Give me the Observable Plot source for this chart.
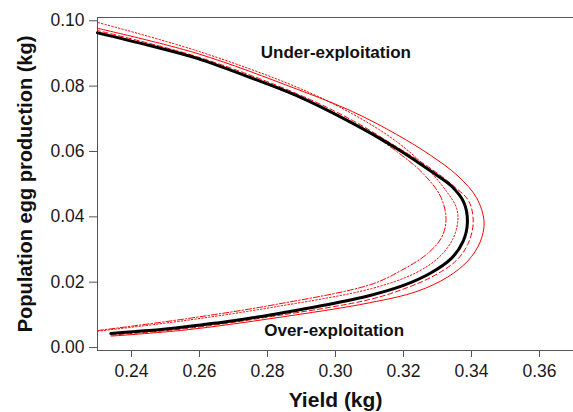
<!DOCTYPE html>
<html>
<head>
<meta charset="utf-8">
<script src="https://cdn.jsdelivr.net/npm/d3@7"></script>
<script src="https://cdn.jsdelivr.net/npm/@observablehq/plot@0.6"></script>
<style>
  html, body { margin: 0; padding: 0; background: #fff; }
  #chart { width: 573px; height: 412px; }
</style>
</head>
<body>
<div id="chart"></div>
<script>
// Curves as [yield (kg), population egg production (kg)]
const baseCurve = [
  [0.2339,0.0043],[0.245,0.0052],[0.256,0.0064],[0.270,0.0082],[0.2825,0.0103],
  [0.297,0.0130],[0.3104,0.0160],[0.320,0.0190],[0.328,0.0228],[0.334,0.0272],
  [0.3375,0.0324],[0.3388,0.0384],[0.3377,0.0445],[0.334,0.0495],[0.328,0.0540],
  [0.318,0.0609],[0.304,0.0692],[0.2886,0.0771],[0.274,0.0830],[0.2593,0.0885],
  [0.245,0.0925],[0.230,0.0963]
];
const solidCurve = [
  [0.234,0.0035],[0.256,0.0054],[0.2825,0.0091],[0.310,0.0137],[0.324,0.0172],
  [0.333,0.0216],[0.339,0.0266],[0.3425,0.0322],[0.3437,0.0384],[0.3415,0.0458],
  [0.336,0.0525],[0.328,0.0588],[0.318,0.0652],[0.305,0.0722],[0.2886,0.0791],
  [0.2593,0.0900],[0.230,0.0977]
];
const dashedCurve = [
  [0.234,0.0038],[0.256,0.0058],[0.2825,0.0097],[0.310,0.0147],[0.321,0.0183],
  [0.329,0.0220],[0.3355,0.0266],[0.339,0.0318],[0.3405,0.0384],[0.3392,0.0448],
  [0.335,0.0492],[0.328,0.0548],[0.318,0.0614],[0.305,0.0695],[0.2886,0.0777],
  [0.2593,0.0890],[0.230,0.0970]
];
const dottedCurve = [
  [0.230,0.0050],[0.256,0.0083],[0.2825,0.0125],[0.3104,0.0180],[0.3235,0.0228],
  [0.3305,0.0277],[0.3345,0.0332],[0.336,0.0390],[0.3355,0.0430],[0.3325,0.0480],
  [0.327,0.0548],[0.318,0.0630],[0.305,0.0715],[0.2886,0.0797],[0.2593,0.0908],[0.230,0.0995]
];
const dashDotCurve = [
  [0.230,0.0052],[0.256,0.0088],[0.2825,0.0132],[0.3104,0.0193],[0.3195,0.0237],
  [0.327,0.0287],[0.3312,0.0337],[0.3325,0.0392],[0.331,0.0460],[0.326,0.0530],
  [0.318,0.0600],[0.305,0.0688],[0.2886,0.0768],[0.2593,0.0884],[0.230,0.0966]
];

const xTicks = [0.24, 0.26, 0.28, 0.30, 0.32, 0.34, 0.36];
const yTicks = [0.00, 0.02, 0.04, 0.06, 0.08, 0.10];

const noteText = ["Under-exploitation", "Over-exploitation"];
const noteX = [0.3001, 0.2996];
const noteY = [0.0903, 0.0053];

const xLabel = "Yield (kg)";
const yLabel = "Population egg production (kg)";

const lineOpts = {x: d => d[0], y: d => d[1], curve: "catmull-rom"};

const chart = Plot.plot({
  width: 573,
  height: 412,
  marginLeft: 97,
  marginRight: 0,
  marginTop: 17,
  marginBottom: 62,
  style: {fontFamily: "'Liberation Sans', Arial, sans-serif", fontSize: "17.5px", color: "#1a1a1a", background: "#fff"},
  x: {domain: [0.23, 0.37]},
  y: {domain: [-0.0009, 0.101]},
  marks: [
    Plot.frame({stroke: "#555", strokeWidth: 1}),
    Plot.axisX({ticks: xTicks, tickFormat: d3.format(".2f"), tickSize: 7, tickPadding: 7,
      label: xLabel, labelAnchor: "center", labelArrow: "none", labelOffset: 56, stroke: "#555"}),
    Plot.axisY({ticks: yTicks, tickFormat: d3.format(".2f"), tickSize: 8, tickPadding: 5,
      label: yLabel, labelAnchor: "center", labelArrow: "none", labelOffset: 80, stroke: "#555"}),
    Plot.line(solidCurve, {...lineOpts, stroke: "#ff0000", strokeWidth: 1}),
    Plot.line(dashedCurve, {...lineOpts, stroke: "#ff0000", strokeWidth: 1, strokeDasharray: "5,3"}),
    Plot.line(dottedCurve, {...lineOpts, stroke: "#ff0000", strokeWidth: 1, strokeDasharray: "1.5,2"}),
    Plot.line(dashDotCurve, {...lineOpts, stroke: "#ff0000", strokeWidth: 1, strokeDasharray: "6,2,1.5,2"}),
    Plot.line(baseCurve, {...lineOpts, stroke: "#000", strokeWidth: 3}),
    Plot.text(noteText, {x: (d, i) => noteX[i], y: (d, i) => noteY[i], text: d => d,
      fontWeight: "bold", fontSize: 17, fill: "#111"})
  ]
});

document.getElementById("chart").appendChild(chart);
const svg = d3.select(chart);
svg.selectAll('[aria-label="x-axis label"] text')
  .style("font-weight", "bold").style("font-size", "21px").style("fill", "#111");
svg.selectAll('[aria-label="y-axis label"] text')
  .style("font-weight", "bold").style("font-size", "20px").style("fill", "#111");
</script>
</body>
</html>
